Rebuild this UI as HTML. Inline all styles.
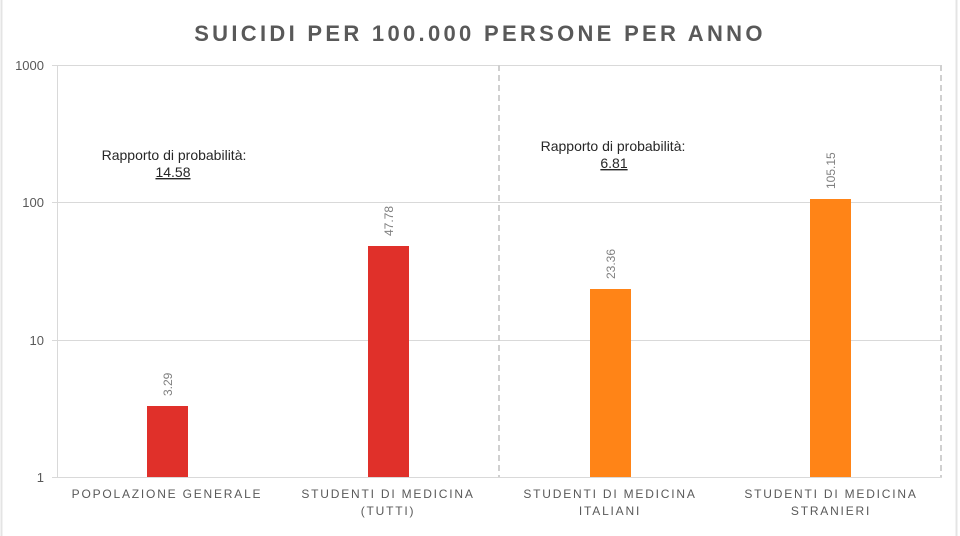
<!DOCTYPE html>
<html><head><meta charset="utf-8"><style>
html,body{margin:0;padding:0;background:#fff;}
svg{display:block;font-family:"Liberation Sans",sans-serif;}
</style></head><body>
<svg width="960" height="536" viewBox="0 0 960 536" xmlns="http://www.w3.org/2000/svg">
<rect x="0" y="0" width="960" height="536" fill="#fff"/>
<line x1="1.5" y1="0" x2="1.5" y2="536" stroke="#e4e4e4" stroke-width="2"/>
<line x1="956.5" y1="0" x2="956.5" y2="536" stroke="#e4e4e4" stroke-width="2"/>
<text x="480" y="41" text-anchor="middle" font-size="22" font-weight="bold" fill="#595959" letter-spacing="3.3">SUICIDI PER 100.000 PERSONE PER ANNO</text>
<g stroke="#d9d9d9" stroke-width="1">
<line x1="52" y1="65.5" x2="942" y2="65.5"/>
<line x1="52" y1="202.5" x2="942" y2="202.5"/>
<line x1="52" y1="340.5" x2="942" y2="340.5"/>
<line x1="52" y1="477.5" x2="942" y2="477.5"/>
<line x1="57.5" y1="65" x2="57.5" y2="477"/>
</g>
<g stroke="#d0d0d0" stroke-width="2" stroke-dasharray="6,4">
<line x1="499" y1="65" x2="499" y2="477"/>
<line x1="941" y1="65" x2="941" y2="477"/>
</g>
<g font-size="13" fill="#595959" text-anchor="end">
<text x="44" y="70">1000</text>
<text x="44" y="207">100</text>
<text x="44" y="345">10</text>
<text x="44" y="482">1</text>
</g>
<rect x="147" y="406" width="41" height="71" fill="#e0302a"/>
<rect x="368" y="246" width="41" height="231" fill="#e0302a"/>
<rect x="590" y="289" width="41" height="188" fill="#ff8417"/>
<rect x="810" y="199" width="41" height="278" fill="#ff8417"/>
<g font-size="12" fill="#7f7f7f">
<text transform="translate(172,396) rotate(-90)">3.29</text>
<text transform="translate(393,236) rotate(-90)">47.78</text>
<text transform="translate(615,279) rotate(-90)">23.36</text>
<text transform="translate(835,189) rotate(-90)">105.15</text>
</g>
<g font-size="14" fill="#262626" text-anchor="middle">
<text x="174" y="160">Rapporto di probabilità:</text>
<text x="173" y="177" text-decoration="underline">14.58</text>
<text x="613" y="151">Rapporto di probabilità:</text>
<text x="614" y="168" text-decoration="underline">6.81</text>
</g>
<g font-size="12" fill="#595959" text-anchor="middle" letter-spacing="1.8">
<text x="167" y="498">POPOLAZIONE GENERALE</text>
<text x="388" y="498">STUDENTI DI MEDICINA</text>
<text x="388" y="515">(TUTTI)</text>
<text x="610" y="498">STUDENTI DI MEDICINA</text>
<text x="610" y="515">ITALIANI</text>
<text x="831" y="498">STUDENTI DI MEDICINA</text>
<text x="831" y="515">STRANIERI</text>
</g>
</svg>
</body></html>
